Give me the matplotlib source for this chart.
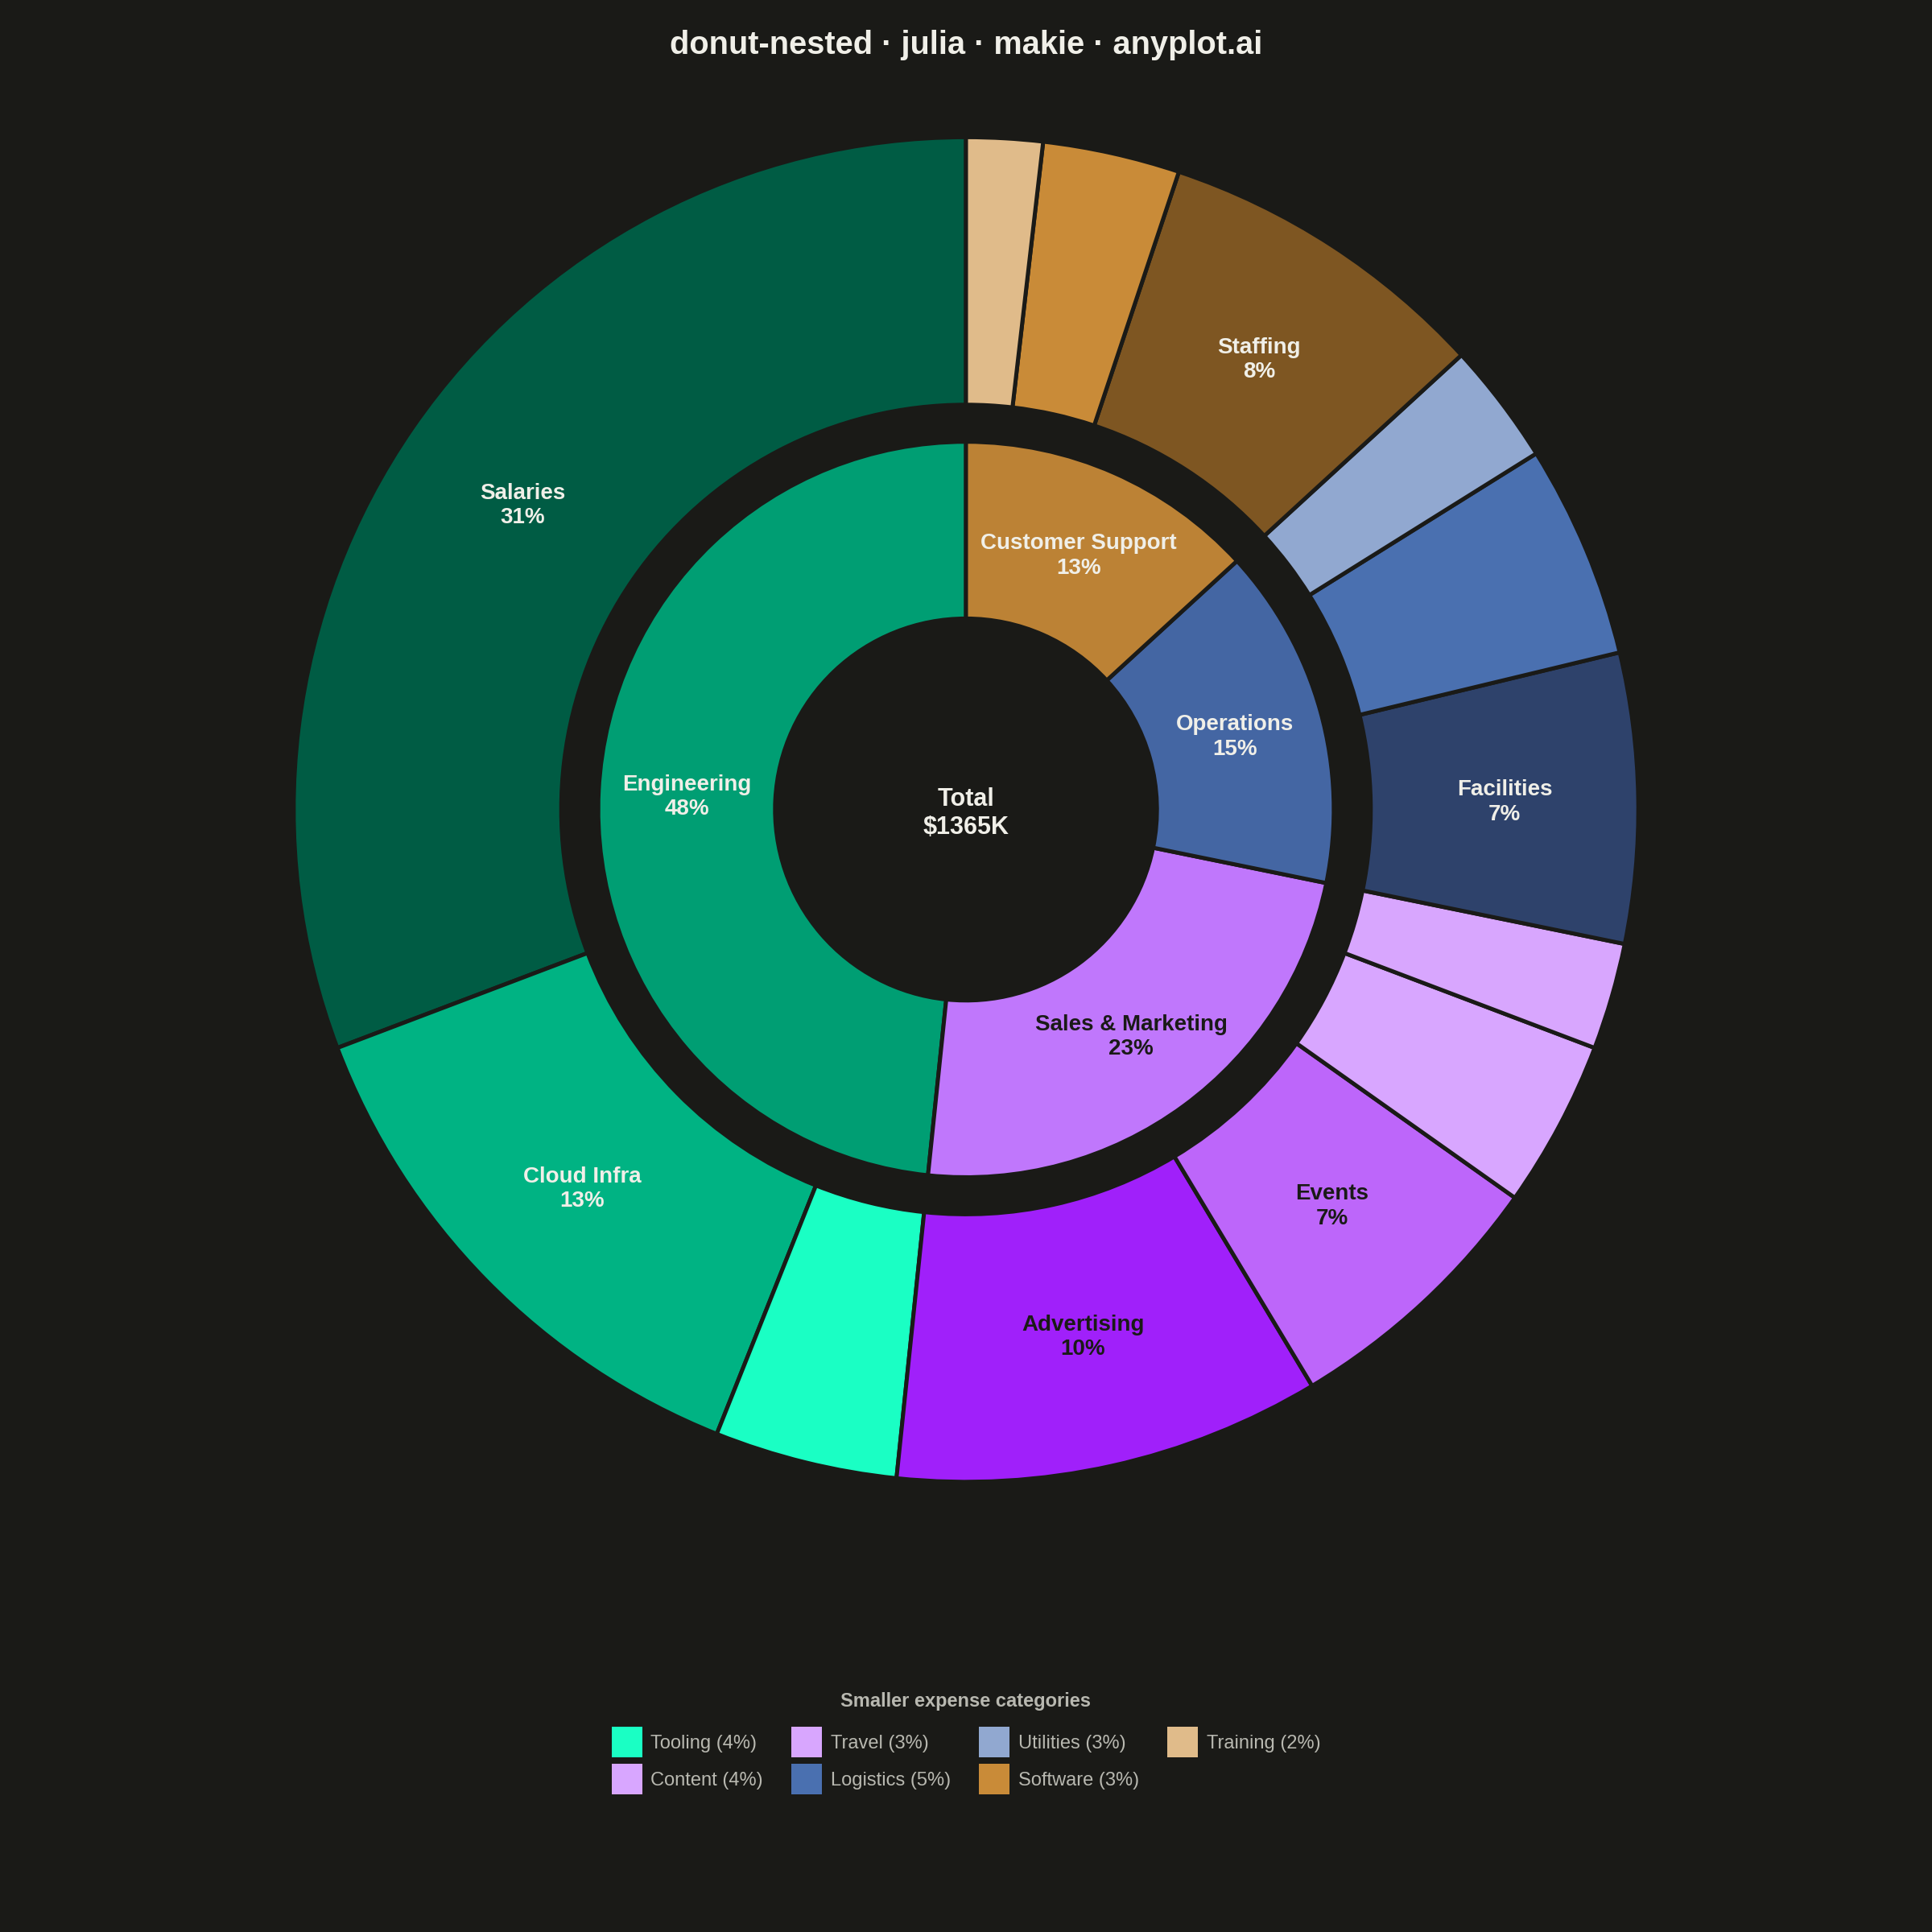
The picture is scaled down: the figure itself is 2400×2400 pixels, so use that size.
#!/usr/bin/env python3
"""Nested donut: department budget split into expense categories."""

import matplotlib

matplotlib.use("Agg")
import matplotlib.pyplot as plt
import numpy as np
from matplotlib.patches import Patch

BG = "#1A1A17"
INK = "#F0EFE8"
DARK_INK = "#1A1A17"
MUTED = "#B8B8B0"

# --- data ($K) ---
departments = ["Engineering", "Sales & Marketing", "Operations", "Customer Support"]
dept_values = [660, 320, 205, 180]
dept_colors = ["#009E73", "#C077FC", "#4466A3", "#BC8235"]
dept_text = [INK, DARK_INK, INK, INK]

categories = [
    "Salaries", "Cloud Infra", "Tooling",
    "Advertising", "Events", "Content", "Travel",
    "Facilities", "Logistics", "Utilities",
    "Staffing", "Software", "Training",
]
cat_values = [420, 180, 60, 140, 90, 55, 35, 95, 70, 40, 110, 45, 25]
cat_colors = [
    "#005C44", "#00B383", "#1AFFC4",
    "#A020FA", "#BD66FA", "#D8A6FF", "#D8A6FE",
    "#2E426B", "#4A70B0", "#91A8D0",
    "#7E5622", "#C98B38", "#E0BB8A",
]
cat_text = [INK, INK, DARK_INK, DARK_INK, DARK_INK, DARK_INK, DARK_INK,
            INK, INK, DARK_INK, INK, DARK_INK, DARK_INK]

LABEL_MIN = 0.06  # smaller slices go to the legend


def main() -> None:
    plt.rcParams["font.family"] = ["Liberation Sans", "DejaVu Sans"]
    total = sum(dept_values)

    fig = plt.figure(figsize=(12, 12), dpi=200, facecolor=BG)
    r_out = 0.348
    ax = fig.add_axes([0.5 - r_out, 0.581 - r_out, 2 * r_out, 2 * r_out])
    ax.set_facecolor(BG)

    wedge_kw = dict(edgecolor=BG, linewidth=1.8)
    outer, _ = ax.pie(cat_values, radius=1.0, colors=cat_colors, startangle=90,
                      counterclock=True, wedgeprops=dict(width=0.398, **wedge_kw))
    inner, _ = ax.pie(dept_values, radius=0.547, colors=dept_colors, startangle=90,
                      counterclock=True, wedgeprops=dict(width=0.263, **wedge_kw))
    for w in outer + inner:
        w.set_clip_on(False)

    def put_labels(wedges, names, values, colors, r_mid):
        for w, name, v, c in zip(wedges, names, values, colors):
            share = v / total
            if share < LABEL_MIN:
                continue
            ang = np.deg2rad((w.theta1 + w.theta2) / 2)
            ax.text(r_mid * np.cos(ang), r_mid * np.sin(ang) - 0.003,
                    f"{name}\n{share * 100:.0f}%", ha="center", va="center",
                    color=c, fontsize=10, fontweight="bold", linespacing=1.22)

    put_labels(outer, categories, cat_values, cat_text, (1.0 + 0.602) / 2)
    put_labels(inner, departments, dept_values, dept_text, (0.547 + 0.284) / 2)

    ax.text(0, -0.006, f"Total\n${total}K", ha="center", va="center", color=INK,
            fontsize=11, fontweight="bold", linespacing=1.22)

    ax.set_xlim(-1.0, 1.0)
    ax.set_ylim(-1.0, 1.0)
    ax.set_aspect("equal")
    ax.axis("off")

    fig.text(0.5, 0.9765, "donut-nested · julia · makie · anyplot.ai", ha="center",
             va="center", color=INK, fontsize=14.3, fontweight="bold")

    # legend for the slices too small to label
    small = [(n, v, c) for n, v, c in zip(categories, cat_values, cat_colors)
             if v / total < LABEL_MIN]
    handles = [Patch(facecolor=c, edgecolor="none", label=f"{n} ({v / total * 100:.0f}%)")
               for n, v, c in small]
    fig.text(0.5, 0.1193, "Smaller expense categories", ha="center", va="center",
             color=MUTED, fontsize=8.5, fontweight="bold")
    leg = fig.legend(handles=handles, loc="center", bbox_to_anchor=(0.5, 0.0886),
                     ncol=4, frameon=False, fontsize=8.5,
                     handlelength=1.6, handleheight=2.1, handletextpad=0.45,
                     columnspacing=1.5, labelspacing=0.33, borderpad=0.3)
    for t in leg.get_texts():
        t.set_color(MUTED)

    fig.savefig("out.png", dpi=200, facecolor=BG)
    plt.close(fig)


if __name__ == "__main__":
    main()
